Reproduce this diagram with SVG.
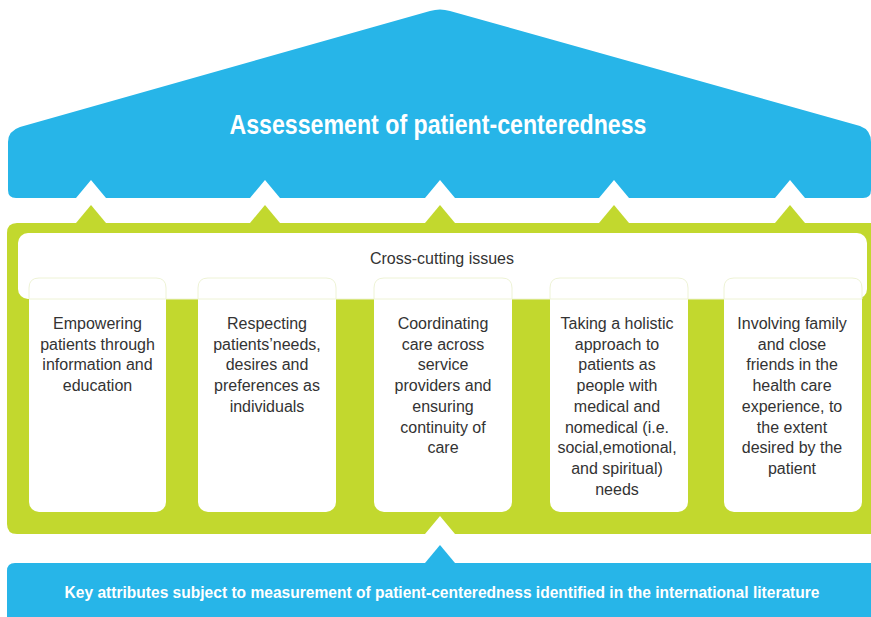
<svg xmlns="http://www.w3.org/2000/svg" width="871" height="617" viewBox="0 0 871 617">
<style>
.blue{fill:#27b5e8}
.green{fill:#c2d82e}
.white{fill:#ffffff}
.outline{fill:none;stroke:#eef3d6;stroke-width:1}
.body{font-family:"Liberation Sans",Arial,sans-serif;font-size:16px;fill:#333333;text-anchor:middle}
.head{font-family:"Liberation Sans",Arial,sans-serif;font-weight:bold;fill:#ffffff;text-anchor:middle}
</style>
<rect width="871" height="617" fill="#ffffff"/>
<g id="roof">
<path class="blue" d="M8,142 Q8,131 20,127 L430,11 Q440,8 450,11 L860,126 Q871,130 871,142 L871,190 Q871,198 863,198 L805,198 L790,180 L775,198 L629,198 L614,180 L599,198 L455,198 L440,180 L425,198 L280,198 L265,180 L250,198 L106,198 L91,180 L76,198 L16,198 Q8,198 8,190 Z"/>
<text class="head" x="438" y="134" font-size="27" textLength="417" lengthAdjust="spacingAndGlyphs">Assessement of patient-centeredness</text>
</g>
<g id="connectors">
<polygon class="green" points="76,223 91,205 106,223"/>
<polygon class="green" points="250,223 265,205 280,223"/>
<polygon class="green" points="425,223 440,205 455,223"/>
<polygon class="green" points="599,223 614,205 629,223"/>
<polygon class="green" points="775,223 790,205 805,223"/>
<polygon class="blue" points="425,563 440,545 455,563"/>
</g>
<g id="frame">
<path class="green" d="M17,223 L871,223 L871,534 L455,534 L440,516 L425,534 L17,534 Q7,534 7,524 L7,233 Q7,223 17,223 Z"/>
</g>
<g id="cross-cutting">
<rect class="white" x="18" y="233" width="849" height="66" rx="10"/>
<rect class="white" x="29" y="278" width="137" height="234" rx="10"/>
<rect class="white" x="198" y="278" width="138" height="234" rx="10"/>
<rect class="white" x="374" y="278" width="138" height="234" rx="10"/>
<rect class="white" x="550" y="278" width="138" height="234" rx="10"/>
<rect class="white" x="724" y="278" width="138" height="234" rx="10"/>
<line class="outline" x1="29" y1="299" x2="862" y2="299"/>
<path class="outline" d="M29,299 L29,288 Q29,278 39,278 L156,278 Q166,278 166,288 L166,299"/>
<path class="outline" d="M198,299 L198,288 Q198,278 208,278 L326,278 Q336,278 336,288 L336,299"/>
<path class="outline" d="M374,299 L374,288 Q374,278 384,278 L502,278 Q512,278 512,288 L512,299"/>
<path class="outline" d="M550,299 L550,288 Q550,278 560,278 L678,278 Q688,278 688,288 L688,299"/>
<path class="outline" d="M724,299 L724,288 Q724,278 734,278 L852,278 Q862,278 862,288 L862,299"/>
<text class="body" x="442" y="264" font-size="15">Cross-cutting issues</text>
</g>
<g id="col1">
<text class="body" x="97.5" y="329">Empowering</text>
<text class="body" x="97.5" y="349.7">patients through</text>
<text class="body" x="97.5" y="370.4">information and</text>
<text class="body" x="97.5" y="391.1">education</text>
</g>
<g id="col2">
<text class="body" x="267" y="329">Respecting</text>
<text class="body" x="267" y="349.7">patients’needs,</text>
<text class="body" x="267" y="370.4">desires and</text>
<text class="body" x="267" y="391.1">preferences as</text>
<text class="body" x="267" y="411.8">individuals</text>
</g>
<g id="col3">
<text class="body" x="443" y="329">Coordinating</text>
<text class="body" x="443" y="349.7">care across</text>
<text class="body" x="443" y="370.4">service</text>
<text class="body" x="443" y="391.1">providers and</text>
<text class="body" x="443" y="411.8">ensuring</text>
<text class="body" x="443" y="432.5">continuity of</text>
<text class="body" x="443" y="453.2">care</text>
</g>
<g id="col4">
<text class="body" x="617" y="329">Taking a holistic</text>
<text class="body" x="617" y="349.7">approach to</text>
<text class="body" x="617" y="370.4">patients as</text>
<text class="body" x="617" y="391.1">people with</text>
<text class="body" x="617" y="411.8">medical and</text>
<text class="body" x="617" y="432.5">nomedical (i.e.</text>
<text class="body" x="617" y="453.2">social,emotional,</text>
<text class="body" x="617" y="473.9">and spiritual)</text>
<text class="body" x="617" y="494.6">needs</text>
</g>
<g id="col5">
<text class="body" x="792" y="329">Involving family</text>
<text class="body" x="792" y="349.7">and close</text>
<text class="body" x="792" y="370.4">friends in the</text>
<text class="body" x="792" y="391.1">health care</text>
<text class="body" x="792" y="411.8">experience, to</text>
<text class="body" x="792" y="432.5">the extent</text>
<text class="body" x="792" y="453.2">desired by the</text>
<text class="body" x="792" y="473.9">patient</text>
</g>
<g id="base">
<path class="blue" d="M15,563 L871,563 L871,617 L7,617 L7,571 Q7,563 15,563 Z"/>
<text class="head" x="442" y="598" font-size="17" textLength="755" lengthAdjust="spacingAndGlyphs">Key attributes subject to measurement of patient-centeredness identified in the international literature</text>
</g>
</svg>
